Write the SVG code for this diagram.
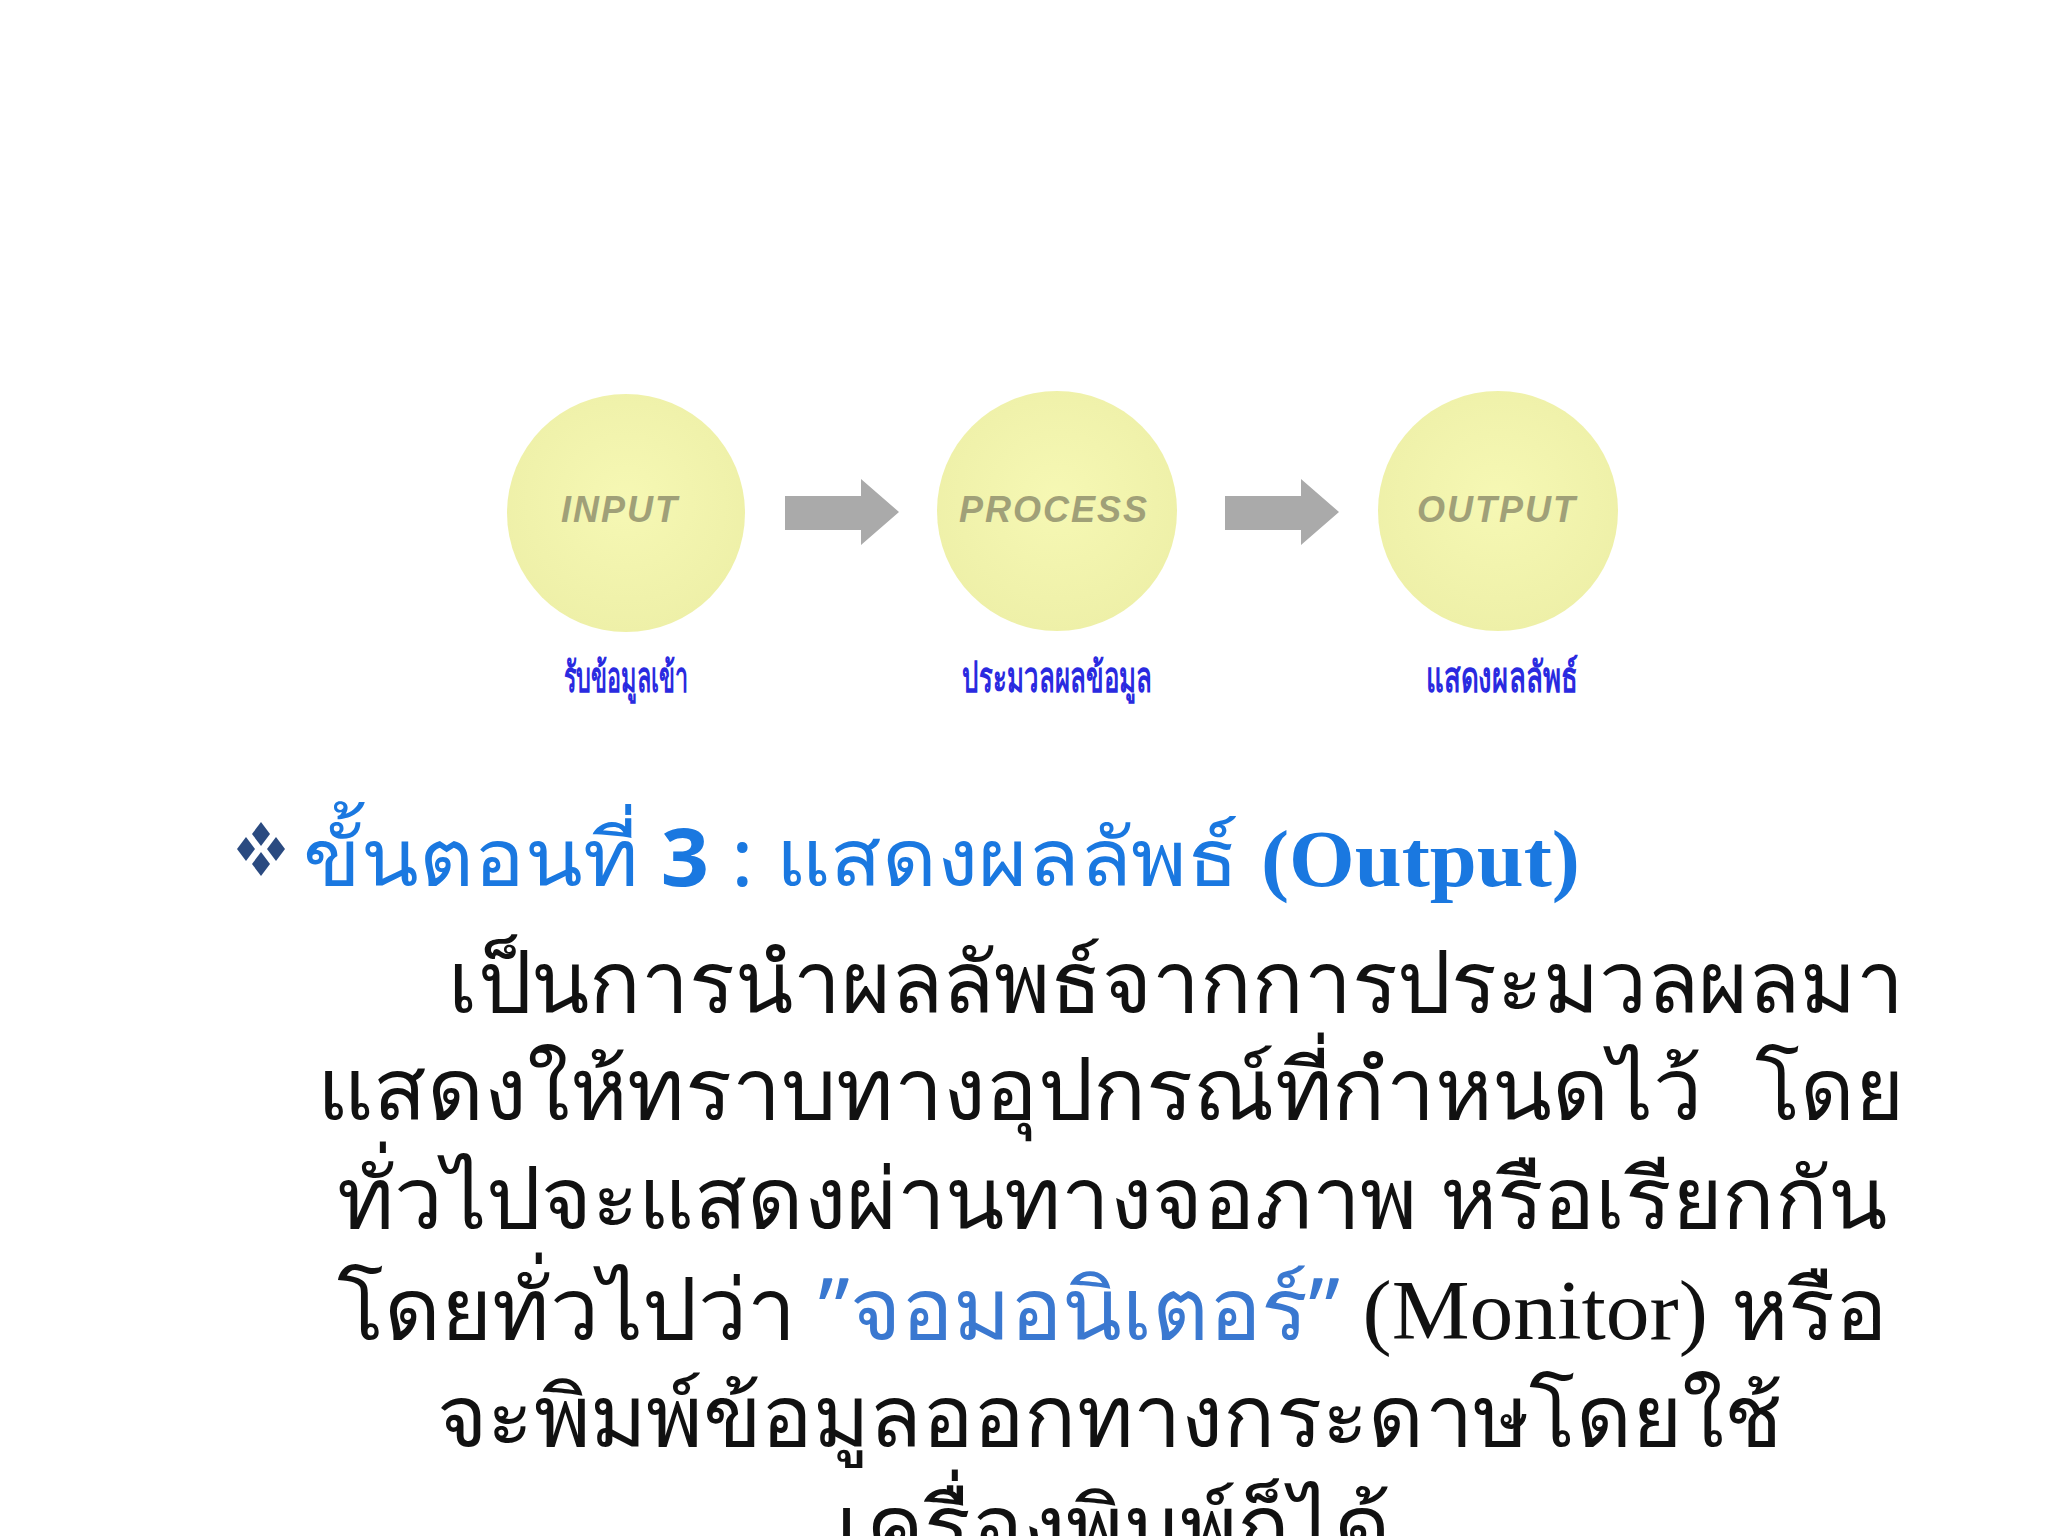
<svg xmlns="http://www.w3.org/2000/svg" width="2048" height="1536" viewBox="0 0 2048 1536">
<defs>
<radialGradient id="g" cx="0.5" cy="0.45" r="0.55"><stop offset="0" stop-color="#f6f8b4"/><stop offset="1" stop-color="#eef0a8"/></radialGradient>
<style>
.c{fill:url(#g)}
.ct{font-family:"Liberation Sans",sans-serif;font-weight:bold;font-style:italic;font-size:36px;fill:#a0a078;text-anchor:middle;letter-spacing:2px}
.lb{font-family:"Noto Sans","DejaVu Sans",sans-serif;font-weight:bold;font-size:42px;fill:#2a2ae0;text-anchor:middle}
.ar{fill:#aaaaaa}
.t{font-family:"Noto Sans","DejaVu Sans",sans-serif;font-size:80px;fill:#1a78e0}
.b{font-family:"Noto Sans","DejaVu Sans",sans-serif;font-size:84px;fill:#111}
.tm{font-family:"Liberation Serif",serif}
</style>
</defs>
<rect width="2048" height="1536" fill="#fff"/>
<g id="input"><circle class="c" cx="626" cy="513" r="119"/><text class="ct" x="620" y="522">INPUT</text><text class="lb" x="626" y="692" textLength="125" lengthAdjust="spacingAndGlyphs">รับข้อมูลเข้า</text></g>
<g id="process"><circle class="c" cx="1057" cy="511" r="120"/><text class="ct" x="1054" y="522">PROCESS</text><text class="lb" x="1057" y="692" textLength="190" lengthAdjust="spacingAndGlyphs">ประมวลผลข้อมูล</text></g>
<g id="output"><circle class="c" cx="1498" cy="511" r="120"/><text class="ct" x="1497" y="522">OUTPUT</text><text class="lb" x="1502" y="692" textLength="152" lengthAdjust="spacingAndGlyphs">แสดงผลลัพธ์</text></g>
<g id="connectors">
<polygon class="ar" points="785,496 861,496 861,479 899,512 861,545 861,530 785,530"/>
<polygon class="ar" points="1225,496 1301,496 1301,479 1339,512 1301,545 1301,530 1225,530"/>
</g>
<g id="title">
<g fill="#2a4a80"><polygon points="261,822 270,834 261,846 252,834"/><polygon points="261,852 270,864 261,876 252,864"/><polygon points="246,837 255,849 246,861 237,849"/><polygon points="276,837 285,849 276,861 267,849"/></g>
<text class="t" x="303" y="886" textLength="1277" lengthAdjust="spacingAndGlyphs">ขั้นตอนที่ <tspan font-weight="bold">3</tspan> : แสดงผลลัพธ์ <tspan class="tm" font-weight="bold">(Output)</tspan></text>
</g>
<g id="body">
<text class="b" x="448" y="1012" textLength="1456" lengthAdjust="spacingAndGlyphs">เป็นการนำผลลัพธ์จากการประมวลผลมา</text>
<text class="b" x="317" y="1119" textLength="1385" lengthAdjust="spacingAndGlyphs">แสดงให้ทราบทางอุปกรณ์ที่กำหนดไว้</text>
<text class="b" x="1904" y="1119" text-anchor="end">โดย</text>
<text class="b" x="337" y="1228" textLength="1550" lengthAdjust="spacingAndGlyphs">ทั่วไปจะแสดงผ่านทางจอภาพ หรือเรียกกัน</text>
<text class="b" x="337" y="1339" textLength="1550" lengthAdjust="spacingAndGlyphs">โดยทั่วไปว่า <tspan fill="#3a78d0">”จอมอนิเตอร์”</tspan> <tspan class="tm">(Monitor)</tspan> หรือ</text>
<text class="b" x="437" y="1446" textLength="1346" lengthAdjust="spacingAndGlyphs">จะพิมพ์ข้อมูลออกทางกระดาษโดยใช้</text>
<text class="b" x="836" y="1556" textLength="555" lengthAdjust="spacingAndGlyphs">เครื่องพิมพ์ก็ได้</text>
</g>
</svg>
